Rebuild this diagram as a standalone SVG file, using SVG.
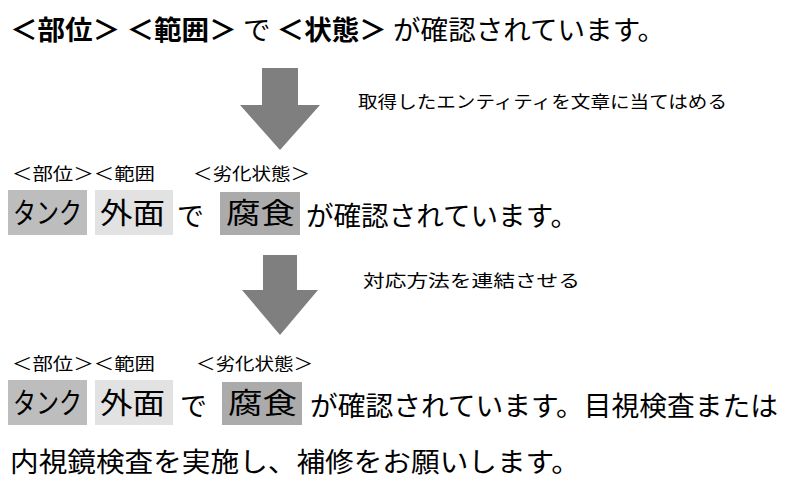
<svg xmlns="http://www.w3.org/2000/svg" width="788" height="485" viewBox="0 0 788 485">
<style>
text{font-family:"Noto Sans CJK JP","Noto Sans",sans-serif;fill:#000}
.t{font-size:27px}.b{font-weight:bold}.s{font-size:17px}.l{font-size:17px}.m{font-size:29px}.n{font-size:27px}
.arr{fill:#7f7f7f}
</style>
<rect width="788" height="485" fill="#fff"/>
<g id="title"><text class="t" x="10" y="40" textLength="655" lengthAdjust="spacingAndGlyphs"><tspan class="b">＜部位＞ ＜範囲＞</tspan> で <tspan class="b">＜状態＞</tspan> が確認されています。</text></g>
<g id="connectors">
<polygon class="arr" points="262,68 298,68 298,105 320,105 280,150 240,105 262,105"/>
<polygon class="arr" points="263,255 297,255 297,290 318,290 280,335 242,290 263,290"/>
</g>
<g id="note1"><text class="s" x="358" y="108" textLength="369" lengthAdjust="spacingAndGlyphs">取得したエンティティを文章に当てはめる</text></g>
<g id="note2"><text class="s" x="363" y="287" textLength="217" lengthAdjust="spacingAndGlyphs">対応方法を連結させる</text></g>
<g id="row2">
<text class="l" x="12" y="180" textLength="143" lengthAdjust="spacingAndGlyphs">＜部位＞＜範囲</text>
<text class="l" x="193" y="180" textLength="117" lengthAdjust="spacingAndGlyphs">＜劣化状態＞</text>
<rect x="8" y="190" width="79" height="45" fill="#bdbdbd"/>
<rect x="95" y="190" width="78" height="45" fill="#e2e2e2"/>
<rect x="220" y="192" width="80" height="43" fill="#ababab"/>
<text class="m" x="13" y="224" textLength="69" lengthAdjust="spacingAndGlyphs">タンク</text>
<text class="m" x="100" y="224" textLength="65" lengthAdjust="spacingAndGlyphs">外面</text>
<text class="n" x="177" y="226">で</text>
<text class="n" x="226" y="224" style="font-size:29px" textLength="69" lengthAdjust="spacingAndGlyphs">腐食</text>
<text class="n" x="306" y="226" textLength="272" lengthAdjust="spacingAndGlyphs">が確認されています。</text>
</g>
<g id="row3">
<text class="l" x="12" y="370" textLength="143" lengthAdjust="spacingAndGlyphs">＜部位＞＜範囲</text>
<text class="l" x="196" y="370" textLength="117" lengthAdjust="spacingAndGlyphs">＜劣化状態＞</text>
<rect x="8" y="380" width="79" height="45" fill="#bdbdbd"/>
<rect x="95" y="380" width="78" height="45" fill="#e2e2e2"/>
<rect x="222" y="382" width="80" height="43" fill="#ababab"/>
<text class="m" x="13" y="414" textLength="69" lengthAdjust="spacingAndGlyphs">タンク</text>
<text class="m" x="100" y="414" textLength="65" lengthAdjust="spacingAndGlyphs">外面</text>
<text class="n" x="180" y="416">で</text>
<text class="m" x="228" y="414" textLength="69" lengthAdjust="spacingAndGlyphs">腐食</text>
<text class="n" x="310" y="416" textLength="468" lengthAdjust="spacingAndGlyphs">が確認されています。目視検査または</text>
<text class="n" x="10" y="472" textLength="570" lengthAdjust="spacingAndGlyphs">内視鏡検査を実施し、補修をお願いします。</text>
</g>
</svg>
